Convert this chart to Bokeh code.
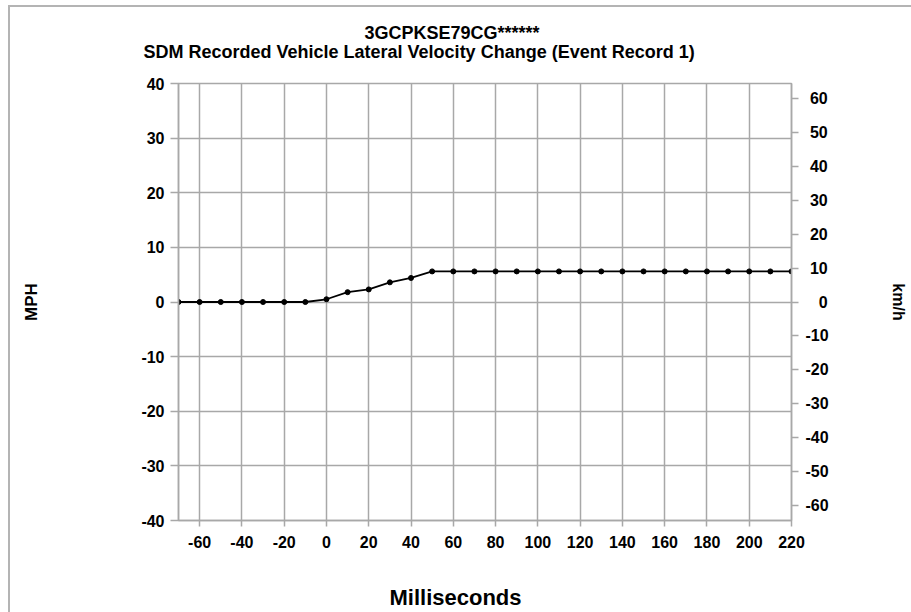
from bokeh.plotting import figure
from bokeh.models import Range1d, LinearAxis, FixedTicker, Title
from bokeh.embed import file_html
from bokeh.resources import INLINE

# ---- data ----
ms = [-70, -60, -50, -40, -30, -20, -10, 0, 10, 20, 30, 40, 50, 60, 70, 80, 90,
      100, 110, 120, 130, 140, 150, 160, 170, 180, 190, 200, 210, 220]
mph = [0.0, 0.0, 0.0, 0.0, 0.0, 0.0, 0.0, 0.5, 1.8, 2.3, 3.6, 4.4, 5.6, 5.6, 5.6,
       5.6, 5.6, 5.6, 5.6, 5.6, 5.6, 5.6, 5.6, 5.6, 5.6, 5.6, 5.6, 5.6, 5.6, 5.6]
x_ticks = [-60, -40, -20, 0, 20, 40, 60, 80, 100, 120, 140, 160, 180, 200, 220]
mph_ticks = [-40, -30, -20, -10, 0, 10, 20, 30, 40]
kmh_ticks = [-60, -50, -40, -30, -20, -10, 0, 10, 20, 30, 40, 50, 60]
title1 = "3GCPKSE79CG******"
title2 = "SDM Recorded Vehicle Lateral Velocity Change (Event Record 1)"
x_label = "Milliseconds"
y_label = "MPH"
y2_label = "km/h"
MPH_TO_KMH = 1.609344

FONT = "Liberation Sans"
GRAY = "#a8a8a8"

p = figure(frame_width=613, frame_height=437,
           x_range=Range1d(-70, 220), y_range=Range1d(-40, 40),
           output_backend="svg", toolbar_location=None,
           min_border_left=168, min_border_right=120, min_border_top=76, min_border_bottom=92)
p.margin = (5, 0, 0, 8)
p.styles = {"border-left": "2px solid #b4b4b4", "border-top": "2px solid #b4b4b4"}
p.background_fill_color = "white"
p.border_fill_color = "white"
p.outline_line_color = GRAY
p.outline_line_width = 1.5

p.extra_y_ranges = {"kmh": Range1d(-40 * MPH_TO_KMH, 40 * MPH_TO_KMH)}

def style_axis(ax, tick_out):
    ax.axis_line_color = GRAY
    ax.axis_line_width = 1.5
    ax.major_tick_line_color = GRAY
    ax.major_tick_line_width = 1.5
    ax.major_tick_in = 0
    ax.major_tick_out = tick_out
    ax.minor_tick_line_color = None
    ax.major_label_text_font = FONT
    ax.major_label_text_font_style = "bold"
    ax.major_label_text_font_size = "16px"
    ax.major_label_text_color = "black"
    ax.axis_label_text_font = FONT
    ax.axis_label_text_font_style = "bold"
    ax.axis_label_text_color = "black"

def plain(ticks):
    # hyphen-minus labels, as in the original
    return {t: str(t) for t in ticks}

def right_aligned(ticks):
    # pad left-aligned labels so that their right edges line up
    out = {}
    for t in ticks:
        s = str(t)
        pad = ""
        if t >= 0:
            pad += "\u2008"          # width of the missing minus sign
        if abs(t) < 10:
            pad += "\u2007"          # width of the missing digit
        out[t] = pad + s
    return out

p.xaxis.ticker = FixedTicker(ticks=x_ticks)
style_axis(p.xaxis[0], 6)
p.xaxis.major_label_standoff = 9
p.xaxis.major_label_overrides = plain(x_ticks)

p.yaxis.ticker = FixedTicker(ticks=mph_ticks)
style_axis(p.yaxis[0], 8)
p.yaxis.major_label_standoff = 6
p.yaxis.major_label_overrides = plain(mph_ticks)
p.yaxis.axis_label = y_label
p.yaxis.axis_label_text_font_size = "17px"
p.yaxis.axis_label_standoff = 97

rax = LinearAxis(y_range_name="kmh", ticker=FixedTicker(ticks=kmh_ticks))
style_axis(rax, 7)
rax.major_label_standoff = 7
rax.major_label_overrides = right_aligned(kmh_ticks)
rax.axis_label = y2_label
rax.axis_label_text_font_size = "16px"
rax.axis_label_standoff = 58
p.add_layout(rax, "right")

p.xgrid.ticker = FixedTicker(ticks=x_ticks)
p.ygrid.ticker = FixedTicker(ticks=mph_ticks)
for g in (p.xgrid[0], p.ygrid[0]):
    g.grid_line_color = GRAY
    g.grid_line_width = 1.5

p.line(ms, mph, line_color="black", line_width=1.8)
p.scatter(ms, mph, size=5, color="black")

# empty spacer panel between the frame and the two title lines
p.add_layout(Title(text=" ", text_font_size="2px", standoff=18), "above")
# titles (first added sits closest to the frame)
p.add_layout(Title(text=title2, align="left", offset=-35, standoff=0,
                   text_font=FONT, text_font_style="bold", text_font_size="18px",
                   text_color="black"), "above")
p.add_layout(Title(text=title1, align="left", offset=186, standoff=-6,
                   text_font=FONT, text_font_style="bold", text_font_size="18px",
                   text_color="black"), "above")
# x-axis title, centred on the whole chart
p.add_layout(Title(text=x_label, align="left", offset=211, standoff=64,
                   text_font=FONT, text_font_style="bold", text_font_size="22px",
                   text_color="black"), "below")

open("out.html", "w").write(file_html(p, INLINE))
